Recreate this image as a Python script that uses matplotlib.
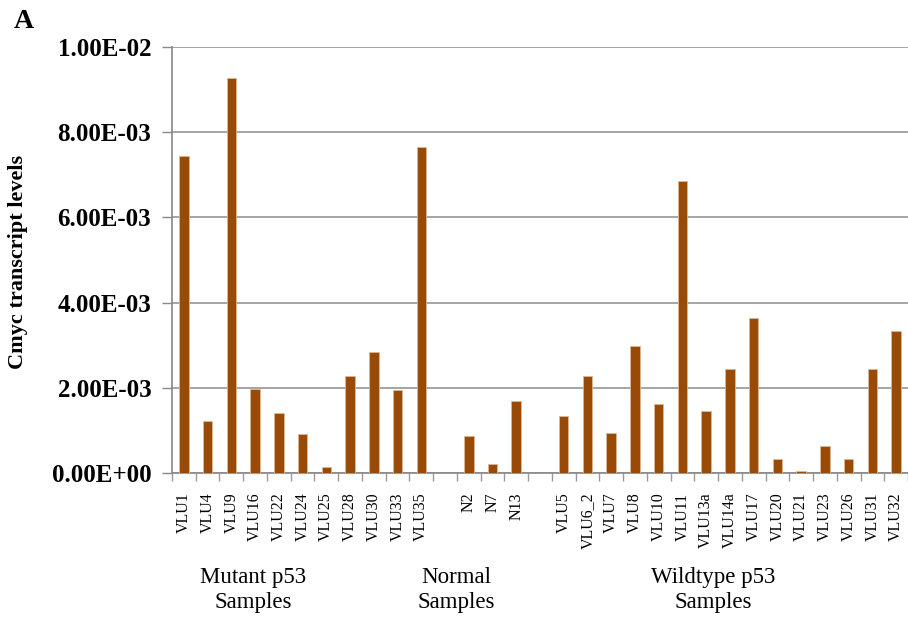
import numpy as np
import matplotlib.pyplot as plt
from matplotlib.ticker import FixedLocator, FuncFormatter

mutant_labels = ["VLU1", "VLU4", "VLU9", "VLU16", "VLU22", "VLU24", "VLU25",
                 "VLU28", "VLU30", "VLU33", "VLU35"]
mutant_vals = [7.44e-3, 1.23e-3, 9.26e-3, 1.98e-3, 1.40e-3, 0.92e-3, 0.145e-3,
               2.27e-3, 2.85e-3, 1.96e-3, 7.64e-3]

normal_labels = ["N2", "N7", "N13"]
normal_vals = [0.865e-3, 0.21e-3, 1.70e-3]

wild_labels = ["VLU5", "VLU6_2", "VLU7", "VLU8", "VLU10", "VLU11", "VLU13a",
               "VLU14a", "VLU17", "VLU20", "VLU21", "VLU23", "VLU26", "VLU31", "VLU32"]
wild_vals = [1.34e-3, 2.29e-3, 0.94e-3, 2.98e-3, 1.63e-3, 6.86e-3, 1.46e-3,
             2.44e-3, 3.65e-3, 0.335e-3, 0.05e-3, 0.63e-3, 0.335e-3, 2.44e-3, 3.33e-3]

groups = ["Mutant p53\nSamples", "Normal\nSamples", "Wildtype p53\nSamples"]
yticks = [0, 2e-3, 4e-3, 6e-3, 8e-3, 1e-2]

# one empty slot between groups
labels = mutant_labels + [""] + normal_labels + [""] + wild_labels
values = mutant_vals + [np.nan] + normal_vals + [np.nan] + wild_vals
x = np.arange(len(labels))

plt.rcParams["font.family"] = ["Liberation Serif", "DejaVu Serif"]

fig = plt.figure(figsize=(9.08, 6.20), dpi=100)
ax = fig.add_axes([0.1894, 0.2368, 0.8106, 0.6879])

ax.bar(x, values, width=0.4, color="#994A07", edgecolor="#dcb894", linewidth=0.6, zorder=3)

ax.set_xlim(-0.5, len(labels) - 0.5)
ax.set_ylim(0, 0.01)
ax.set_yticks(yticks)
ax.yaxis.set_major_formatter(FuncFormatter(
    lambda v, p: "0.00E+00" if v == 0 else "%.2E" % v))
for t in ax.get_yticklabels():
    t.set_fontweight("bold")
ax.tick_params(axis="y", labelsize=18, length=7, width=1, color="#888888", pad=8)

ax.set_xticks(x)
ax.set_xticklabels(labels, rotation=90, fontsize=11.5)
ax.xaxis.set_minor_locator(FixedLocator(np.arange(-0.5, len(labels), 1.0)))
ax.tick_params(axis="x", which="major", length=0, pad=14)
ax.tick_params(axis="x", which="minor", length=6, width=1, color="#999999")

ax.grid(axis="y", color="#8c8c8c", linewidth=1.1, zorder=0)
for s in ["top", "right"]:
    ax.spines[s].set_visible(False)
ax.spines["left"].set_color("#888888")
ax.spines["bottom"].set_color("#888888")
ax.spines["left"].set_linewidth(1.2)
ax.spines["bottom"].set_linewidth(1.2)

ax.set_ylabel("Cmyc transcript levels", fontsize=16, fontweight="bold")
ax.yaxis.set_label_coords(-0.196, 0.495)

# group captions below the tick labels
group_x = [253, 456, 713]
for gx, g in zip(group_x, groups):
    fig.text(gx / 908, 1 - 590 / 620, g, ha="center", va="center",
             fontsize=16.5, linespacing=1.2)

fig.text(14 / 908, 1 - 21 / 620, "A", fontsize=20, fontweight="bold", va="center")

fig.savefig("out.png", dpi=100)
